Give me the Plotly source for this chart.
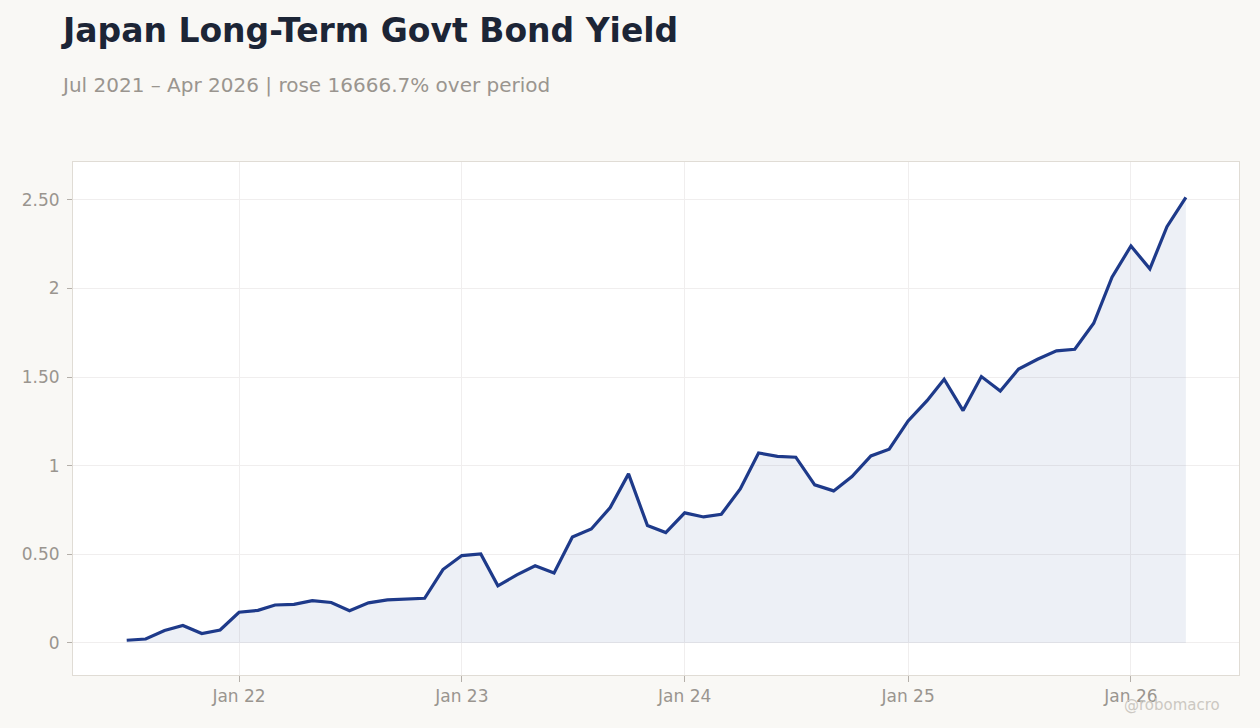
import plotly.graph_objects as go
import pandas as pd

dates = pd.date_range("2021-07-01", "2026-04-01", freq="MS")
yields = [
    0.015, 0.022, 0.070, 0.098, 0.053, 0.073,
    0.173, 0.184, 0.214, 0.218, 0.239, 0.228, 0.182, 0.226, 0.243, 0.247, 0.252, 0.414,
    0.493, 0.502, 0.322, 0.384, 0.435, 0.395, 0.598, 0.643, 0.764, 0.954, 0.662, 0.623,
    0.734, 0.711, 0.726, 0.869, 1.072, 1.053, 1.048, 0.892, 0.858, 0.939, 1.055, 1.093,
    1.253, 1.367, 1.488, 1.311, 1.503, 1.422, 1.546, 1.601, 1.648, 1.657, 1.804, 2.064,
    2.240, 2.111, 2.349, 2.515,
]
y_tickvals = [0, 0.5, 1, 1.5, 2, 2.5]
y_ticktext = ["0", "0.50", "1", "1.50", "2", "2.50"]
x_tickvals = ["2022-01-01", "2023-01-01", "2024-01-01", "2025-01-01", "2026-01-01"]
x_ticktext = ["Jan 22", "Jan 23", "Jan 24", "Jan 25", "Jan 26"]

title = "Japan Long-Term Govt Bond Yield"
subtitle = "Jul 2021 – Apr 2026 | rose 16666.7% over period"

fig = go.Figure()
fig.add_trace(go.Scatter(
    x=dates, y=yields, mode="lines",
    line=dict(color="#1e3a8a", width=3.2),
    fill="tozeroy", fillcolor="rgba(30,58,138,0.08)",
    hoverinfo="x+y", showlegend=False,
))

fig.update_layout(
    width=1260, height=728,
    paper_bgcolor="#f9f8f5", plot_bgcolor="#ffffff",
    margin=dict(l=73, r=21, t=162, b=53),
    font=dict(family="DejaVu Sans", color="#9a958f", size=17),
    xaxis=dict(
        range=["2021-04-04", "2026-06-27"],
        tickvals=x_tickvals, ticktext=x_ticktext,
        showgrid=True, gridcolor="#f0eeee", gridwidth=1,
        ticks="outside", ticklen=6, tickcolor="#b5b0aa",
        showline=True, linecolor="#e0dcd5", mirror=True,
        zeroline=False, tickfont=dict(size=17, color="#9a958f"),
    ),
    yaxis=dict(
        range=[-0.181, 2.714],
        tickvals=y_tickvals, ticktext=y_ticktext,
        showgrid=True, gridcolor="#f0eeee", gridwidth=1,
        ticks="outside", ticklen=5, tickcolor="#b5b0aa",
        ticklabelstandoff=4,
        showline=True, linecolor="#e0dcd5", mirror=True,
        zeroline=False, tickfont=dict(size=17, color="#9a958f"),
    ),
    annotations=[
        dict(text="<b>" + title + "</b>", xref="paper", yref="paper",
             x=0, y=1, xshift=-14, yshift=132, xanchor="left", yanchor="middle",
             showarrow=False, font=dict(size=33, color="#1c2536", family="DejaVu Sans")),
        dict(text=subtitle, xref="paper", yref="paper",
             x=0, y=1, xshift=-14, yshift=77, xanchor="left", yanchor="middle",
             showarrow=False, font=dict(size=20, color="#9a958f", family="DejaVu Sans")),
        dict(text="@robomacro", xref="paper", yref="paper",
             x=1, y=0, xshift=-17, yshift=-30, xanchor="right", yanchor="middle",
             showarrow=False, font=dict(size=15, color="#ccc8c2", family="DejaVu Sans")),
    ],
)

fig.write_html("out.html", config={"displayModeBar": False},
               post_script="document.body.style.margin='0';")
